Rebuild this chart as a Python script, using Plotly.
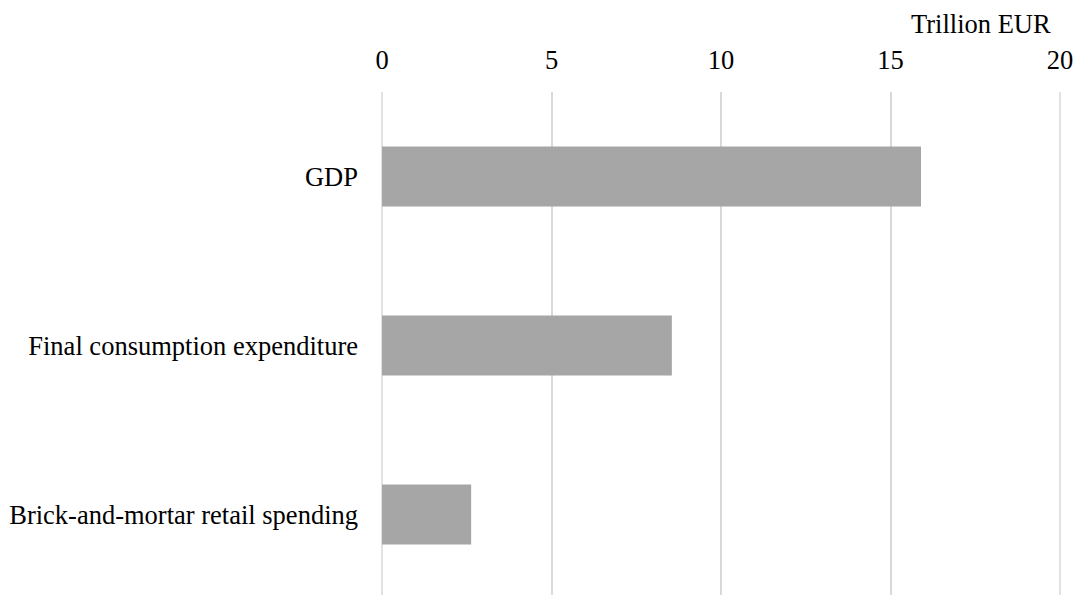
import plotly.graph_objects as go

categories = ["GDP", "Final consumption expenditure", "Brick-and-mortar retail spending"]
values = [15.9, 8.55, 2.63]
tick_vals = [0, 5, 10, 15, 20]
tick_text = ["0", "5", "10", "15", "20"]
unit_label = "Trillion EUR"

FONT = "Liberation Serif, Times New Roman, serif"
GRID = "#D9D9D9"
FS = 26.5

fig = go.Figure(
    go.Bar(
        x=values,
        y=categories,
        orientation="h",
        marker=dict(color="#A6A6A6", line=dict(width=0)),
        hoverinfo="x+y",
    )
)

# edge gridlines (Plotly omits grid lines at the very plot edges)
for v in (tick_vals[0], tick_vals[-1]):
    fig.add_shape(
        type="line", xref="x", yref="paper",
        x0=v, x1=v, y0=0, y1=1,
        line=dict(color=GRID, width=1.5),
        layer="below",
    )

fig.update_layout(
    width=1077,
    height=595,
    margin=dict(l=381, r=16, t=92, b=0),
    paper_bgcolor="white",
    plot_bgcolor="white",
    bargap=0.645,
    showlegend=False,
    font=dict(family=FONT, size=FS, color="#000000"),
    xaxis=dict(
        side="top",
        range=[-0.0295, 20.0295],
        tickvals=tick_vals,
        ticktext=tick_text,
        showgrid=True,
        gridcolor=GRID,
        gridwidth=1.5,
        zeroline=False,
        showline=False,
        ticks="",
        ticklabelstandoff=17,
        tickfont=dict(family=FONT, size=FS, color="#000000"),
    ),
    yaxis=dict(
        categoryorder="array",
        categoryarray=categories,
        range=[2.476, -0.5],
        showgrid=False,
        zeroline=False,
        showline=False,
        ticks="",
        ticklabelstandoff=22,
        tickfont=dict(family=FONT, size=FS, color="#000000"),
    ),
    annotations=[
        dict(
            text=unit_label,
            xref="paper",
            yref="paper",
            x=1,
            y=1,
            xshift=-8,
            yshift=68,
            xanchor="right",
            yanchor="middle",
            showarrow=False,
            font=dict(family=FONT, size=FS, color="#000000"),
        )
    ],
)

fig.write_html("out.html")
